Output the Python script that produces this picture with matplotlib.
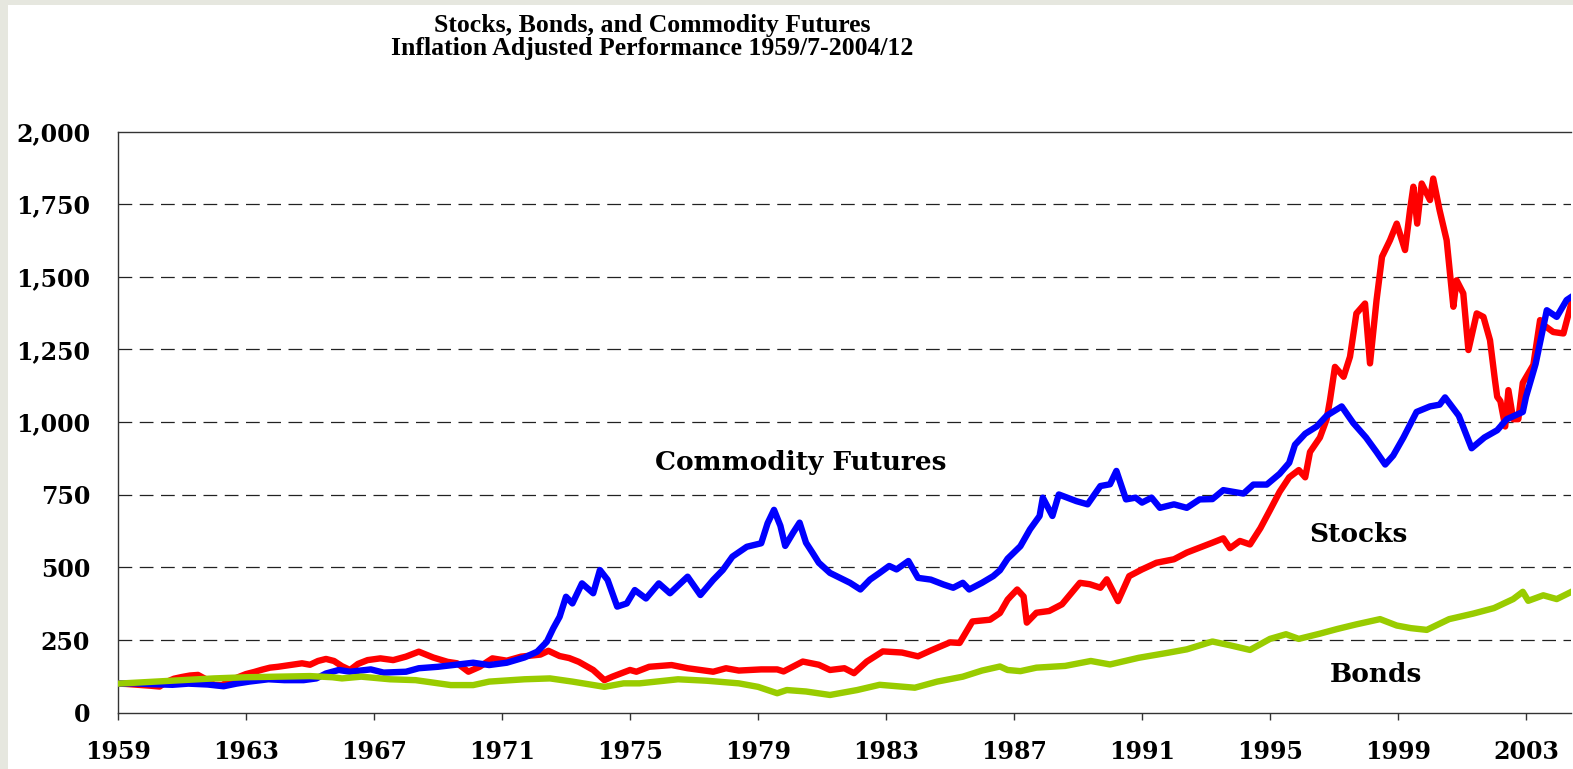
import matplotlib
matplotlib.use("Agg")
import matplotlib.pyplot as plt
from matplotlib.patches import Rectangle
from matplotlib.ticker import FuncFormatter, FixedLocator

# --- data (inflation adjusted index, 1959/7 = 100) ---
stock_years = [1959.5, 1959.75, 1960.0, 1960.25, 1960.5, 1960.8, 1961.0, 1961.25, 1961.5, 1961.75,
               1962.0, 1962.25, 1962.5, 1962.75, 1963.0, 1963.25, 1963.5, 1963.75, 1964.0, 1964.25,
               1964.5, 1964.75, 1965.0, 1965.25, 1965.5, 1965.75, 1966.0, 1966.25, 1966.5, 1966.75,
               1967.0, 1967.3, 1967.7, 1968.1, 1968.5, 1968.9, 1969.35, 1969.8, 1970.1, 1970.45,
               1970.8, 1971.2, 1971.65, 1972.1, 1972.7, 1972.95, 1973.3, 1973.6, 1973.9, 1974.35,
               1974.7, 1974.95, 1975.5, 1975.7, 1976.1, 1976.8, 1977.3, 1978.1, 1978.5, 1978.9,
               1979.6, 1980.1, 1980.3, 1980.9, 1981.4, 1981.75, 1982.2, 1982.5, 1982.9, 1983.4,
               1984.0, 1984.5, 1984.9, 1985.5, 1985.8, 1986.2, 1986.75, 1987.06, 1987.3, 1987.4,
               1987.6, 1987.8, 1987.9, 1988.2, 1988.6, 1989.0, 1989.56, 1989.87, 1990.2, 1990.4,
               1990.75, 1991.1, 1991.5, 1991.95, 1992.5, 1992.9, 1993.3, 1993.7, 1994.04, 1994.25,
               1994.56, 1994.875, 1995.2, 1995.5, 1995.8, 1996.1, 1996.4, 1996.6, 1996.75, 1997.06,
               1997.27, 1997.375, 1997.53, 1997.8, 1998.0, 1998.2, 1998.47, 1998.625, 1998.83, 1999.0,
               1999.25, 1999.46, 1999.72, 1999.875, 1999.98, 2000.1, 2000.24, 2000.5, 2000.6, 2000.8,
               2001.02, 2001.125, 2001.23, 2001.33, 2001.54, 2001.7, 2001.96, 2002.17, 2002.375, 2002.53,
               2002.6, 2002.7, 2002.85, 2002.95, 2003.1, 2003.26, 2003.4, 2003.73, 2003.94, 2004.04,
               2004.35, 2004.67, 2004.92]
stock_vals = [100, 99, 97, 95, 93, 90, 105, 117, 123, 128,
              130, 115, 96, 95, 110, 122, 133, 140, 148, 155,
              158, 162, 166, 170, 165, 178, 185, 178, 160, 147,
              168, 181, 187, 181, 193, 210, 190, 175, 170, 141,
              158, 187, 179, 193, 200, 213, 195, 188, 175, 147,
              112, 124, 147, 141, 158, 164, 153, 141, 153, 145,
              149, 149, 142, 176, 165, 147, 153, 136, 176, 211,
              207, 194, 214, 242, 240, 314, 320, 343, 389, 401,
              424, 400, 310, 344, 350, 373, 447, 442, 430, 459,
              384, 470, 493, 516, 528, 551, 568, 585, 600, 566,
              591, 579, 635, 697, 760, 810, 835, 810, 897, 947,
              1010, 1076, 1190, 1156, 1225, 1374, 1408, 1202, 1420, 1569,
              1626, 1683, 1592, 1729, 1810, 1683, 1821, 1764, 1838, 1729,
              1626, 1511, 1397, 1488, 1443, 1248, 1374, 1362, 1282, 1144,
              1087, 1072, 985, 1110, 1010, 1010, 1135, 1197, 1351, 1335,
              1310, 1305, 1410]

comm_years = [1959.5, 1960.0, 1960.6, 1961.2, 1961.7, 1962.3, 1962.8, 1963.2, 1963.6, 1964.2,
              1964.7, 1965.3, 1965.7, 1966.0, 1966.4, 1966.75, 1967.4, 1967.8, 1968.5, 1968.9,
              1969.5, 1970.6, 1971.1, 1971.65, 1972.2, 1972.6, 1972.9, 1973.1, 1973.3, 1973.5,
              1973.7, 1974.0, 1974.35, 1974.56, 1974.8, 1975.1, 1975.4, 1975.65, 1976.0, 1976.4,
              1976.75, 1977.3, 1977.7, 1978.1, 1978.4, 1978.7, 1979.15, 1979.6, 1979.8, 1980.0,
              1980.2, 1980.35, 1980.6, 1980.8, 1981.0, 1981.2, 1981.4, 1981.75, 1982.06, 1982.375,
              1982.7, 1983.0, 1983.3, 1983.6, 1983.83, 1984.2, 1984.5, 1984.9, 1985.3, 1985.6,
              1985.9, 1986.1, 1986.5, 1986.85, 1987.06, 1987.3, 1987.7, 1988.0, 1988.3, 1988.4,
              1988.7, 1988.9, 1989.45, 1989.8, 1990.2, 1990.5, 1990.7, 1991.0, 1991.3, 1991.5,
              1991.8, 1992.06, 1992.5, 1992.9, 1993.3, 1993.7, 1994.04, 1994.35, 1994.67, 1994.98,
              1995.4, 1995.8, 1996.1, 1996.28, 1996.6, 1996.96, 1997.27, 1997.74, 1998.1, 1998.5,
              1998.83, 1999.1, 1999.35, 1999.67, 2000.08, 2000.5, 2000.8, 2000.97, 2001.4, 2001.8,
              2002.2, 2002.6, 2002.9, 2003.4, 2003.5, 2003.8, 2004.15, 2004.46, 2004.77, 2004.92]
comm_vals = [100, 101, 98, 96, 100, 97, 91, 100, 107, 115,
             112, 112, 118, 135, 147, 141, 149, 138, 141, 153,
             158, 172, 164, 172, 190, 210, 244, 290, 330, 399,
             376, 445, 411, 491, 457, 365, 376, 422, 393, 445,
             411, 468, 405, 457, 491, 537, 571, 583, 652, 698,
             643, 574, 620, 654, 585, 551, 516, 481, 464, 447,
             424, 458, 481, 505, 493, 522, 464, 458, 441, 430,
             447, 424, 447, 470, 490, 530, 573, 631, 677, 740,
             677, 751, 728, 717, 780, 786, 832, 734, 740, 723,
             740, 705, 717, 705, 734, 735, 766, 760, 754, 785,
             785, 822, 860, 922, 960, 985, 1022, 1054, 997, 947,
             897, 854, 885, 947, 1035, 1054, 1060, 1085, 1022, 910,
             947, 972, 1010, 1035, 1087, 1200, 1385, 1362, 1420, 1431]

bond_years = [1959.5, 1960.5, 1961.5, 1962.5, 1963.5, 1964.5, 1965.5, 1966.2, 1966.5, 1967.1,
              1968.0, 1968.8, 1969.9, 1970.6, 1971.1, 1972.2, 1973.0, 1973.7, 1974.7, 1975.3,
              1975.8, 1977.0, 1977.9, 1978.9, 1979.5, 1980.1, 1980.4, 1981.0, 1981.75, 1982.6,
              1983.3, 1984.4, 1985.1, 1985.9, 1986.5, 1987.06, 1987.3, 1987.7, 1988.2, 1989.1,
              1989.9, 1990.5, 1991.4, 1992.3, 1992.9, 1993.7, 1994.25, 1994.875, 1995.5, 1996.0,
              1996.4, 1997.06, 1997.6, 1998.2, 1998.94, 1999.46, 1999.9, 2000.4, 2001.1, 2001.85,
              2002.5, 2003.1, 2003.4, 2003.57, 2004.04, 2004.46, 2004.92]
bond_vals = [100, 106, 112, 118, 122, 124, 126, 122, 118, 124,
             115, 112, 95, 95, 107, 115, 118, 107, 89, 101,
             101, 115, 110, 101, 89, 67, 78, 73, 61, 78,
             96, 86, 107, 124, 145, 159, 147, 143, 155, 161,
             178, 166, 189, 206, 218, 245, 232, 216, 254, 270,
             254, 272, 288, 304, 322, 300, 291, 285, 322, 341,
             360, 391, 416, 385, 404, 391, 416]

tick_years = [1959, 1963, 1967, 1971, 1975, 1979, 1983, 1987, 1991, 1995, 1999, 2003]
y_ticks = [0, 250, 500, 750, 1000, 1250, 1500, 1750, 2000]

# --- figure ---
fig = plt.figure(figsize=(15.73, 7.69), dpi=100)
fig.patch.set_facecolor('#e6e7df')
# white slide area (grey strip left and top)
bg = fig.add_axes([8 / 1573, 0, 1 - 8 / 1573, 1 - 5 / 769], zorder=-5)
bg.set_facecolor('white')
bg.axis('off')
bg.add_patch(Rectangle((0, 0), 1, 1, transform=bg.transAxes, facecolor='white', edgecolor='none'))

ax = fig.add_axes([118 / 1573, 56.3 / 769, 1453 / 1573, 581.2 / 769])
ax.set_facecolor('white')

ax.plot(stock_years, stock_vals, color='#ff0000', lw=4.6, solid_joinstyle='round', zorder=3)
ax.plot(comm_years, comm_vals, color='#0000ff', lw=4.6, solid_joinstyle='round', zorder=3)
ax.plot(bond_years, bond_vals, color='#99cc00', lw=4.6, solid_joinstyle='round', zorder=3)

ax.set_xlim(1959.5, 1959.5 + 1453 / 32)
ax.set_ylim(0, 2000)

ax.xaxis.set_major_locator(FixedLocator([y + 0.5 for y in tick_years]))
ax.xaxis.set_major_formatter(FuncFormatter(lambda v, p: '%d' % int(v)))
ax.yaxis.set_major_locator(FixedLocator(y_ticks))
ax.yaxis.set_major_formatter(FuncFormatter(lambda v, p: '{:,.0f}'.format(v)))

tick_font = dict(family='DejaVu Serif', weight='bold', size=17)
for lab in ax.get_xticklabels() + ax.get_yticklabels():
    lab.set_fontproperties(tick_font)
ax.tick_params(axis='x', direction='out', length=5, width=1, color='#333333', pad=15)
ax.tick_params(axis='y', length=0, pad=20)

# dashed grid lines
for g in y_ticks[1:-1]:
    ax.axhline(g, color='#222222', lw=0.9, ls=(0, (11, 6)), zorder=1)

for side in ['left', 'bottom', 'top']:
    ax.spines[side].set_color('#333333')
    ax.spines[side].set_linewidth(1)
ax.spines['right'].set_visible(False)

# series labels
lab_font = dict(family='DejaVu Serif', weight='bold', size=19, ha='center', va='center')
ax.text(1980.84, 860, 'Commodity Futures', **lab_font)
ax.text(1998.25, 613, 'Stocks', **lab_font)
ax.text(1998.8, 132, 'Bonds', **lab_font)

# title
title_font = dict(family='Liberation Serif', weight='bold', size=18.5, ha='center', va='baseline')
fig.text(652 / 1573, 1 - 31.7 / 769, 'Stocks, Bonds, and Commodity Futures', **title_font)
fig.text(652 / 1573, 1 - 55.5 / 769, 'Inflation Adjusted Performance 1959/7-2004/12', **title_font)

plt.savefig('out.png', dpi=100, facecolor=fig.get_facecolor())
